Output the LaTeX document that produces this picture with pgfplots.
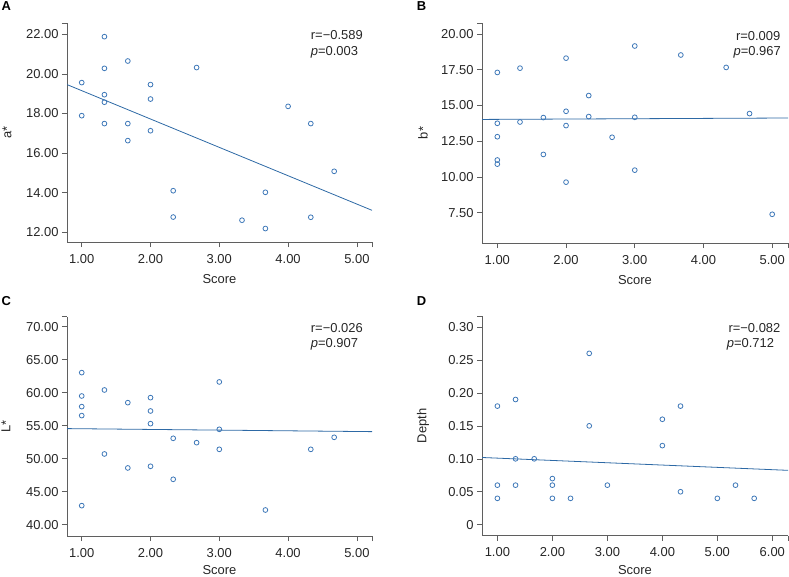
\documentclass[border=0pt]{standalone}
\usepackage{fontspec}
\setmainfont{Liberation Sans}
\usepackage{pgfplots}
\pgfplotsset{compat=1.18}
\definecolor{ptblue}{RGB}{62,120,184}
\definecolor{lnblue}{RGB}{45,105,165}
\definecolor{axgray}{RGB}{95,95,95}
\pgfplotsset{panel/.style={
  scale only axis, width=305bp, height=219bp,
  axis x line*=bottom, axis y line*=left,
  axis line style={axgray, line width=0.8pt, -},
  tick align=outside, major tick length=5bp,
  tick style={axgray, line width=0.6pt},
  every tick label/.append style={font=\fontsize{13}{15}\selectfont, text=black!85},
  xticklabel style={yshift=-3.5bp},
  label style={font=\fontsize{13}{15}\selectfont, text=black!85},
  xlabel style={at={(rel axis cs:0.5,0)}, anchor=center, yshift=-37bp},
  ylabel style={at={(rel axis cs:0,0.5)}, anchor=center},
  xlabel={Score},
  scatter/.style={only marks, mark=o, mark size=2.4bp, ptblue, mark options={line width=0.8pt}},
  fitline/.style={lnblue, line width=0.8pt},
}}
\begin{document}
\begin{tikzpicture}
\path[use as bounding box] (0,0) rectangle (789bp,-577bp);
% Panel A
\begin{axis}[panel, at={(67bp,-242bp)}, anchor=south west,
  xmin=0.786, xmax=5.22, ymin=11.51, ymax=22.57,
  xtick={1,2,3,4,5}, xticklabels={1.00,2.00,3.00,4.00,5.00},
  ytick={12,14,16,18,20,22}, yticklabels={12.00,14.00,16.00,18.00,20.00,22.00},
  extra x ticks={5.22}, extra x tick labels={},
  extra y ticks={22.57}, extra y tick labels={},
  ylabel={a*}, ylabel style={yshift=60bp}]
\addplot[scatter] coordinates {
(1.00,19.56) (1.00,17.89) (1.33,21.88) (1.33,20.28) (1.33,18.95) (1.33,18.57)
(1.33,17.49) (1.67,20.65) (1.67,17.49) (1.67,16.63) (2.00,19.46) (2.00,18.73)
(2.00,17.13) (2.33,14.10) (2.33,12.77) (2.67,20.32) (3.33,12.61) (3.67,14.02)
(3.67,12.19) (4.00,18.36) (4.33,17.49) (4.33,12.76) (4.67,15.08)};
\addplot[fitline] coordinates {(0.786,19.46) (5.22,13.11)};
\end{axis}
% Panel B
\begin{axis}[panel, at={(482bp,-243bp)}, anchor=south west, width=306bp, height=220bp,
  xmin=0.777, xmax=5.23, ymin=5.37, ymax=20.77,
  xtick={1,2,3,4,5}, xticklabels={1.00,2.00,3.00,4.00,5.00},
  ytick={7.5,10,12.5,15,17.5,20}, yticklabels={7.50,10.00,12.50,15.00,17.50,20.00},
  extra x ticks={5.23}, extra x tick labels={},
  extra y ticks={20.77}, extra y tick labels={},
  ylabel={b*}, ylabel style={yshift=59bp}]
\addplot[scatter] coordinates {
(1.00,17.31) (1.00,13.75) (1.00,12.81) (1.00,11.18) (1.00,10.89)
(1.33,17.61) (1.33,13.84) (1.67,14.15) (1.67,11.57)
(2.00,18.31) (2.00,14.59) (2.00,13.59) (2.00,9.63)
(2.33,15.69) (2.33,14.22) (2.67,12.77)
(3.00,19.16) (3.00,14.17) (3.00,10.47)
(3.67,18.53) (4.33,17.66) (4.67,14.43) (5.00,7.38)};
\addplot[fitline] coordinates {(0.777,14.02) (5.23,14.12)};
\end{axis}
% Panel C
\begin{axis}[panel, at={(67bp,-536bp)}, anchor=south west, height=219.3bp,
  xmin=0.786, xmax=5.22, ymin=38.28, ymax=71.5,
  xtick={1,2,3,4,5}, xticklabels={1.00,2.00,3.00,4.00,5.00},
  ytick={40,45,50,55,60,65,70}, yticklabels={40.00,45.00,50.00,55.00,60.00,65.00,70.00},
  extra x ticks={5.22}, extra x tick labels={},
  extra y ticks={71.5}, extra y tick labels={},
  xlabel style={yshift=3bp},
  ylabel={L*}, ylabel style={yshift=61bp}]
\addplot[scatter] coordinates {
(1.00,63.03) (1.00,59.49) (1.00,57.88) (1.00,56.52) (1.00,42.88)
(1.33,60.40) (1.33,50.71) (1.67,58.48) (1.67,48.59)
(2.00,59.24) (2.00,57.22) (2.00,55.30) (2.00,48.84)
(2.33,53.08) (2.33,46.87) (2.67,52.42)
(3.00,61.62) (3.00,54.44) (3.00,51.41)
(3.67,42.22) (4.33,51.41) (4.67,53.23)};
\addplot[fitline] coordinates {(0.786,54.55) (5.22,54.09)};
\end{axis}
% Panel D
\begin{axis}[panel, at={(482bp,-535.7bp)}, anchor=south west, width=306bp, height=219.7bp,
  xmin=0.72, xmax=6.285, ymin=-0.0167, ymax=0.3167,
  xtick={1,2,3,4,5,6}, xticklabels={1.00,2.00,3.00,4.00,5.00,6.00},
  ytick={0,0.05,0.1,0.15,0.2,0.25,0.3}, yticklabels={0,0.05,0.10,0.15,0.20,0.25,0.30},
  extra x ticks={6.285}, extra x tick labels={},
  extra y ticks={0.3167}, extra y tick labels={},
  xlabel style={yshift=3bp},
  ylabel={Depth}, ylabel style={yshift=59bp}]
\addplot[scatter] coordinates {
(1.00,0.18) (1.00,0.06) (1.00,0.04) (1.33,0.19) (1.33,0.10) (1.33,0.06)
(1.67,0.10) (2.00,0.07) (2.00,0.06) (2.00,0.04) (2.33,0.04)
(2.67,0.26) (2.67,0.15) (3.00,0.06) (4.00,0.16) (4.00,0.12)
(4.33,0.18) (4.33,0.05) (5.00,0.04) (5.33,0.06) (5.67,0.04)};
\addplot[fitline] coordinates {(0.72,0.102) (6.285,0.0825)};
\end{axis}
% annotations
\tikzset{ann/.style={anchor=base west, inner sep=0pt, font=\fontsize{13}{15}\selectfont, text=black!85},
         lett/.style={anchor=north west, inner sep=0pt, font=\bfseries\fontsize{13}{15}\selectfont}}
\node[ann] at (310.7bp,-39.3bp) {r=−0.589};
\node[ann] at (310.7bp,-55.5bp) {\textit{p}=0.003};
\node[ann, anchor=base east] at (780.5bp,-40bp) {r=0.009};
\node[ann, anchor=base east] at (781bp,-55.5bp) {\textit{p}=0.967};
\node[ann] at (310.7bp,-332.7bp) {r=−0.026};
\node[ann] at (310.7bp,-347.5bp) {\textit{p}=0.907};
\node[ann] at (728.3bp,-332.7bp) {r=−0.082};
\node[ann] at (726.7bp,-347.5bp) {\textit{p}=0.712};
\node[lett] at (1.5bp,-1.5bp) {A};
\node[lett] at (416.7bp,-1.5bp) {B};
\node[lett] at (1.5bp,-296.7bp) {C};
\node[lett] at (416.7bp,-296.7bp) {D};
\end{tikzpicture}
\end{document}
